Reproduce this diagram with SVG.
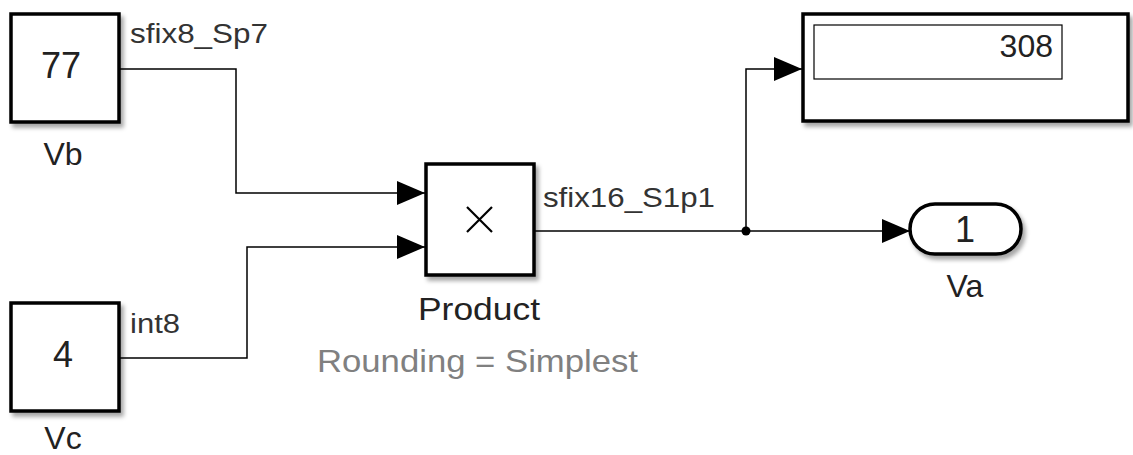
<svg xmlns="http://www.w3.org/2000/svg" width="1133" height="455" viewBox="0 0 1133 455">
<style>
.blk{fill:#fff;stroke:#000;stroke-width:3.5;filter:url(#sh)}
.ln{fill:none;stroke:#000;stroke-width:1.5}
.t{font-family:"Liberation Sans",Arial,sans-serif;font-size:32px;fill:#222}
.n{font-family:"Liberation Sans",Arial,sans-serif;font-size:36px;fill:#222}
.s{font-family:"Liberation Sans",Arial,sans-serif;font-size:27px;fill:#333}
.g{font-family:"Liberation Sans",Arial,sans-serif;font-size:32px;fill:#808080}
</style>
<defs>
<filter id="sh" x="-10%" y="-10%" width="130%" height="130%">
<feDropShadow dx="3" dy="4" stdDeviation="2" flood-color="#000" flood-opacity="0.35"/>
</filter>
<marker id="ar" viewBox="0 0 28 24" refX="28" refY="12" markerWidth="28" markerHeight="24" markerUnits="userSpaceOnUse" orient="auto">
<path d="M0,0 L28,12 L0,24 Z" fill="#000"/>
</marker>
</defs>
<g id="connectors">
<polyline class="ln" points="120,69 236,69 236,193 425,193" marker-end="url(#ar)"/>
<polyline class="ln" points="120,358 247,358 247,247 425,247" marker-end="url(#ar)"/>
<polyline class="ln" points="535,231 910,231" marker-end="url(#ar)"/>
<polyline class="ln" points="746,231 746,69 802,69" marker-end="url(#ar)"/>
<circle cx="746" cy="231" r="4.5" fill="#000"/>
<text class="s" x="130" y="43" textLength="138" lengthAdjust="spacingAndGlyphs">sfix8_Sp7</text>
<text class="s" x="130" y="333" textLength="50" lengthAdjust="spacingAndGlyphs">int8</text>
<text class="s" x="543" y="207" textLength="172" lengthAdjust="spacingAndGlyphs">sfix16_S1p1</text>
</g>
<g id="Vb">
<rect class="blk" x="11" y="14" width="108" height="108"/>
<text class="n" x="61" y="78" text-anchor="middle">77</text>
<text class="t" x="63" y="165" text-anchor="middle">Vb</text>
</g>
<g id="Vc">
<rect class="blk" x="11" y="303" width="108" height="108"/>
<text class="n" x="63" y="367" text-anchor="middle">4</text>
<text class="t" x="63" y="449" text-anchor="middle">Vc</text>
</g>
<g id="Product">
<rect class="blk" x="426" y="164" width="108" height="111"/>
<path d="M467,207 L492,232 M492,207 L467,232" stroke="#000" stroke-width="2.2" fill="none"/>
<text class="t" x="418" y="320" textLength="122" lengthAdjust="spacingAndGlyphs">Product</text>
<text class="g" x="317" y="372" textLength="321" lengthAdjust="spacingAndGlyphs">Rounding = Simplest</text>
</g>
<g id="Display">
<rect class="blk" x="803" y="14" width="325" height="107"/>
<rect x="814" y="25" width="248" height="54" fill="#fff" stroke="#000" stroke-width="1.2"/>
<text class="t" x="1053" y="57" text-anchor="end">308</text>
</g>
<g id="Va">
<rect class="blk" x="910" y="204" width="111" height="50" rx="25" ry="25"/>
<text class="n" x="965" y="242" text-anchor="middle">1</text>
<text class="t" x="965" y="297" text-anchor="middle">Va</text>
</g>
</svg>
